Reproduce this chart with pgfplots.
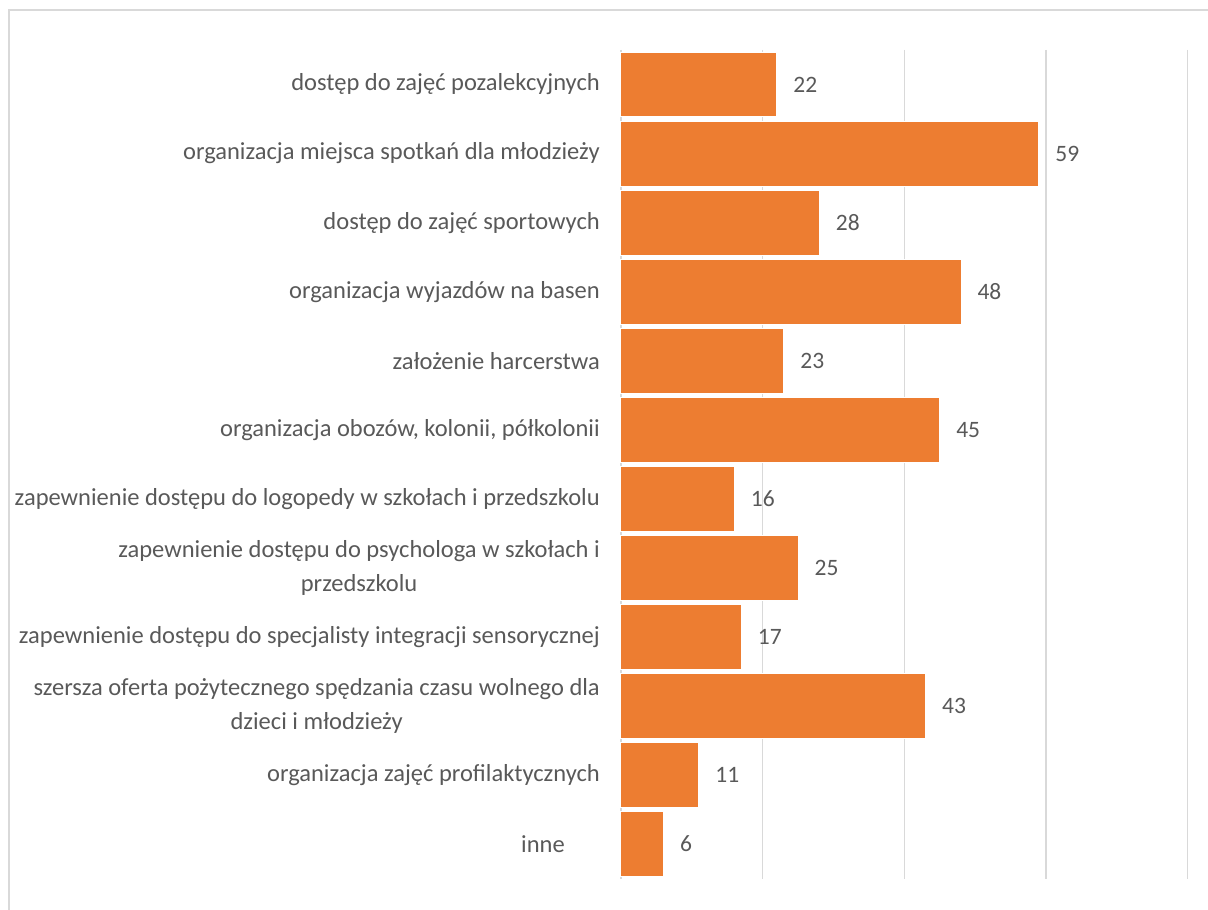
\documentclass[border=0pt]{standalone}
\usepackage{pgfplots}
\pgfplotsset{compat=1.18}
\usepackage{fontspec}
\setmainfont{Carlito}
\definecolor{barc}{HTML}{ED7D31}
\definecolor{txt}{HTML}{595959}
\definecolor{grd}{HTML}{D9D9D9}
\begin{document}
\begin{tikzpicture}[x=1pt,y=1pt]
\useasboundingbox (0,0) rectangle (1208,910);
\draw[grd, line width=2pt] (9,-10) rectangle (1220,899.5);
\begin{axis}[
  at={(621pt,31.4pt)}, anchor=south west,
  scale only axis, width=566.7pt, height=828.6pt,
  xmin=0, xmax=80, ymin=-0.5, ymax=11.5, y dir=reverse,
  xbar, bar width=0.94,
  axis line style={draw=none},
  xtick={0,20,40,60,80}, xticklabels={},
  xmajorgrids, grid style={grd, line width=1.3pt},
  major tick length=0pt,
  ytick={0,...,11},
  yticklabels={
    {dostęp do zajęć pozalekcyjnych},
    {organizacja miejsca spotkań dla młodzieży},
    {dostęp do zajęć sportowych},
    {organizacja wyjazdów na basen},
    {założenie harcerstwa},
    {organizacja obozów, kolonii, półkolonii},
    {zapewnienie dostępu do logopedy w szkołach i przedszkolu},
    {zapewnienie dostępu do psychologa w szkołach i\\przedszkolu},
    {zapewnienie dostępu do specjalisty integracji sensorycznej},
    {szersza oferta pożytecznego spędzania czasu wolnego dla\\dzieci i młodzieży},
    {organizacja zajęć profilaktycznych},
    {inne\hspace{35pt}}},
  yticklabel style={font=\fontsize{24.5}{34}\selectfont, text=txt, align=center, inner sep=0pt, xshift=-21pt},
  nodes near coords,
  nodes near coords style={font=\fontsize{23.5}{28}\selectfont, text=txt, anchor=west, inner sep=0pt, xshift=16pt},
  /pgf/number format/assume math mode=true,
  clip=false,
]
\addplot[fill=barc, draw=white, line width=1pt, bar shift=0pt] table[x=v, y=i] {
i v
0 22
1 59
2 28
3 48
4 23
5 45
6 16
7 25
8 17
9 43
10 11
11 6
};
\end{axis}
\end{tikzpicture}
\end{document}
